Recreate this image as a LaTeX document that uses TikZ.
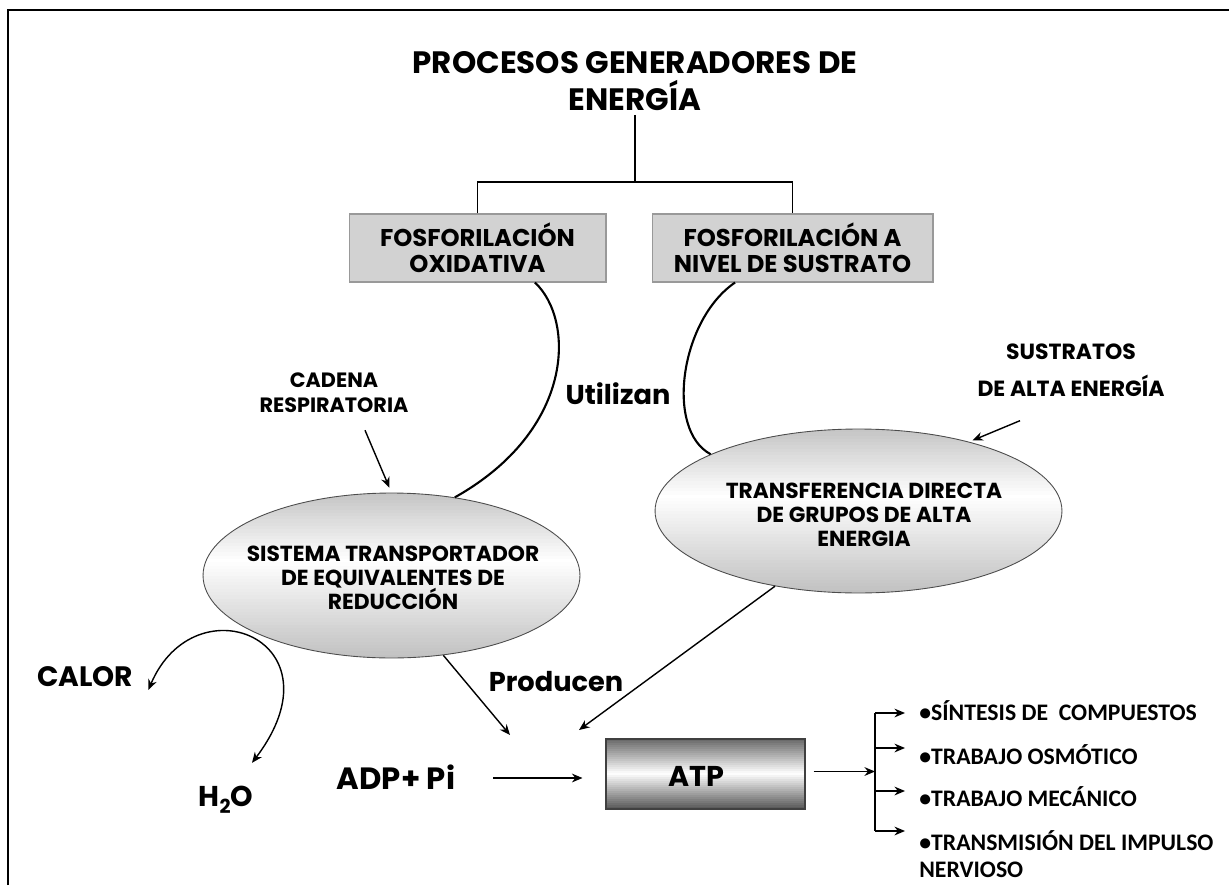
\documentclass[tikz,border=0pt]{standalone}
\usepackage{fontspec}
\usetikzlibrary{shapes.geometric,arrows.meta,calc}
\newfontfamily\comic{Poppins}
\newfontfamily\cali{Carlito}
\begin{document}
\begin{tikzpicture}[x=0.02cm,y=-0.02cm,
  txt/.style={inner sep=0pt,align=center,font=\comic\bfseries},
  boxnode/.style={draw=gray!80,fill=gray!35,line width=0.6pt,inner sep=0pt,minimum height=1.36cm},
  ellnode/.style={ellipse,draw=gray!60!black,line width=0.5pt,inner sep=0pt},
  arr/.style={-{Stealth[length=6pt,width=5pt]},line width=0.8pt},
  curve/.style={line width=1.2pt},
  item/.style={inner sep=0pt,anchor=west,font=\cali\bfseries\fontsize{13.5}{16}\selectfont}
]
\useasboundingbox (0,0) rectangle (1229,885);
% frame
\draw[line width=1.6pt] (8,885) -- (8,10) -- (1229,10);

% title
\node[txt,font=\comic\bfseries\fontsize{17.6}{20.6}\selectfont] (title) at (635,81)
  {PROCESOS GENERADORES DE\\ENERGÍA};

% boxes
\node[boxnode,minimum width=5.14cm] (b1) at (477.5,248) {};
\node[txt,font=\comic\bfseries\fontsize{13.8}{14.7}\selectfont] (b1t) at (b1.center) {FOSFORILACIÓN\\OXIDATIVA};
\node[boxnode,minimum width=5.62cm] (b2) at (792.5,248) {};
\node[txt,font=\comic\bfseries\fontsize{13.8}{14.7}\selectfont] (b2t) at (b2.center) {FOSFORILACIÓN A\\NIVEL DE SUSTRATO};

\coordinate (j) at (635,182);
\draw[line width=1pt] (title.south |- 0,115) -- (j);
\draw[line width=1pt] (b1.north) |- (j) -| (b2.north);

% ellipse 1 with gradient
\begin{scope}
  \clip (391.5,575.5) ellipse [x radius=3.77cm, y radius=1.65cm];
  \foreach \i in {0,...,49}{
    \pgfmathsetmacro\t{\i/50}
    \pgfmathsetmacro\s{\t<0.4 ? 45*(1-\t/0.4) : 50*(\t-0.4)/0.6}
    \fill[gray!\s] (200,493+\i*3.3) rectangle (583,493+\i*3.3+4.3);
  }
\end{scope}
\node[ellnode,minimum width=7.54cm,minimum height=3.3cm] (e1) at (391.5,575.5) {};
\node[txt,font=\comic\bfseries\fontsize{12.4}{13.6}\selectfont] (e1t) at (393,578)
  {SISTEMA TRANSPORTADOR\\DE EQUIVALENTES DE\\REDUCCIÓN};

% ellipse 2 with gradient
\begin{scope}
  \clip (858.5,511) ellipse [x radius=4.07cm, y radius=1.64cm];
  \foreach \i in {0,...,49}{
    \pgfmathsetmacro\t{\i/50}
    \pgfmathsetmacro\s{\t<0.4 ? 45*(1-\t/0.4) : 50*(\t-0.4)/0.6}
    \fill[gray!\s] (652,429+\i*3.28) rectangle (1065,429+\i*3.28+4.3);
  }
\end{scope}
\node[ellnode,minimum width=8.14cm,minimum height=3.28cm] (e2) at (858.5,511) {};
\node[txt,font=\comic\bfseries\fontsize{12.4}{13.6}\selectfont] (e2t) at (864,515)
  {TRANSFERENCIA DIRECTA\\DE GRUPOS DE ALTA\\ENERGIA};

% curves "Utilizan"
\draw[curve] (b1.-31) .. controls (575,320) and (575,430) .. (e1.51);
\draw[curve] (b2.211) .. controls (680,320) and (665,430) .. (e2.159);
\node[txt,font=\comic\bfseries\fontsize{15.5}{18}\selectfont] (util) at (618,394) {Utilizan};

% side labels
\node[txt,font=\comic\bfseries\fontsize{11.8}{14.2}\selectfont] (cad) at (334,393) {CADENA\\RESPIRATORIA};
\draw[arr,shorten >=3pt] ($(cad.south)+(31,17)$) -- (e1.north);
\node[txt,font=\comic\bfseries\fontsize{12.5}{21}\selectfont] (sust) at (1071,370) {SUSTRATOS\\DE ALTA ENERGÍA};
\draw[arr,shorten >=2pt] ($(sust.south)+(-51,24)$) -- (e2.32);

% bottom left
\node[txt,font=\comic\bfseries\fontsize{16}{20}\selectfont] (calor) at (85,677) {CALOR};
\node[txt,font=\comic\bfseries\fontsize{16.3}{20}\selectfont] (h2o) at (226,800) {H\raisebox{-0.45ex}{\fontsize{11}{12}\selectfont 2}O};
\draw[{Stealth[length=6pt,width=5pt]}-{Stealth[length=6pt,width=5pt]},line width=0.8pt]
  ($(calor.east)+(15,13)$) .. controls (195,580) and (345,640) .. ($(h2o.north)+(26,-23)$);

% producen
\node[txt,font=\comic\bfseries\fontsize{15.5}{20}\selectfont] (prod) at (556,682) {Producen};
\coordinate (p1) at (510,735);
\coordinate (p2) at (579,730);
\draw[arr] (e1.-57.6) -- (p1);
\draw[arr] (e2.-138) -- (p2);

% ADP -> ATP
\node[txt,font=\comic\bfseries\fontsize{17.5}{20}\selectfont] (adp) at (396,777) {ADP+ Pi};
\foreach \i in {0,...,34}{
  \pgfmathsetmacro\t{\i/35}
  \pgfmathsetmacro\s{\t<0.48 ? 58*(1-\t/0.48) : 68*(\t-0.48)/0.52}
  \fill[black!\s] (606,739+\i*2) rectangle (805,739+\i*2+3);
}
\node[draw=black!75,line width=0.8pt,inner sep=0pt,minimum width=3.98cm,minimum height=1.4cm] (atp) at (705.5,774) {};
\node[txt,font=\comic\bfseries\fontsize{16.3}{20}\selectfont] (atpt) at (696,776) {ATP};
\draw[arr,shorten <=21.5pt,shorten >=13pt] (adp.east |- 0,778) -- (atp.west |- 0,778);

% bracket
\coordinate (br) at (875,771.5);
\draw[arr,shorten <=4.5pt] (atp.east |- br) -- (br);
\coordinate (t1) at (875,713);
\coordinate (t2) at (875,748);
\coordinate (t3) at (875,791);
\coordinate (t4) at (875,831);
\draw[line width=0.8pt] (t1) -- (t4);
\draw[arr] (t1) -- ++(30,0);
\draw[arr] (t2) -- ++(30,0);
\draw[arr] (t3) -- ++(30,0);
\draw[arr] (t4) -- ++(30,0);

\node[item] (s1) at (919,711) {•SÍNTESIS DE\ \ COMPUESTOS};
\node[item] (s2) at (919,755) {•TRABAJO OSMÓTICO};
\node[item] (s3) at (919,797) {•TRABAJO MECÁNICO};
\node[item] (s4) at (919,841) {•TRANSMISIÓN DEL IMPULSO};
\node[item] (s5) at (919,870) {NERVIOSO};
\end{tikzpicture}
\end{document}
